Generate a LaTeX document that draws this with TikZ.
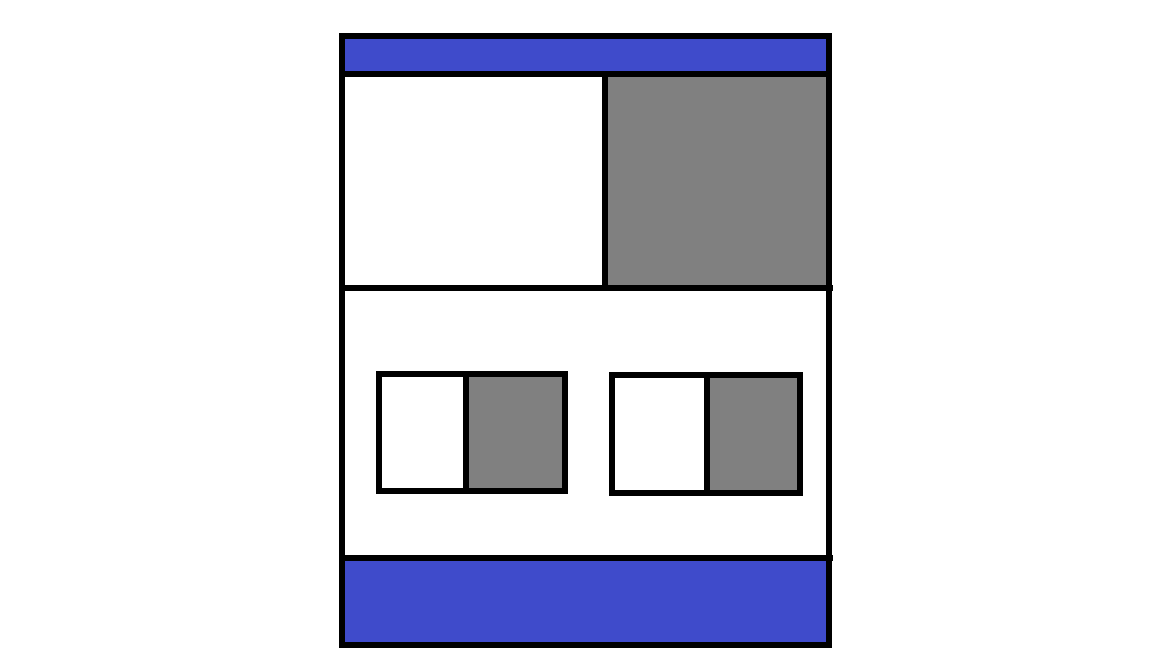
\documentclass[tikz,border=0pt]{standalone}
\usepackage{tikz}
\definecolor{bandblue}{HTML}{3F4BCB}
\definecolor{panelgray}{HTML}{808080}

\begin{document}
\begin{tikzpicture}[x=0.02cm, y=-0.02cm,
    edge/.style={draw=black, line width=3pt},
    band/.style={fill=bandblue},
    shade/.style={fill=panelgray}
]
\useasboundingbox (0,0) rectangle (1152,648);

% bands and shaded panels
\fill[band] (342,36) rectangle (829,74);
\fill[band] (342,558) rectangle (829,645);
\fill[shade] (605,74) rectangle (829,288);
\fill[shade] (466,374) rectangle (565,491);
\fill[shade] (707,375) rectangle (800,493);

% page frame
\draw[edge] (342,36) rectangle (829,645);
\draw[edge] (342,74) -- (829,74);
\draw[edge] (342,288) -- (833,288);
\draw[edge] (342,558) -- (833,558);
\draw[edge] (605,74) -- (605,288);

% small boxes
\draw[edge] (379,374) rectangle (565,491);
\draw[edge] (466,374) -- (466,491);
\draw[edge] (612,375) rectangle (800,493);
\draw[edge] (707,375) -- (707,493);
\end{tikzpicture}
\end{document}
